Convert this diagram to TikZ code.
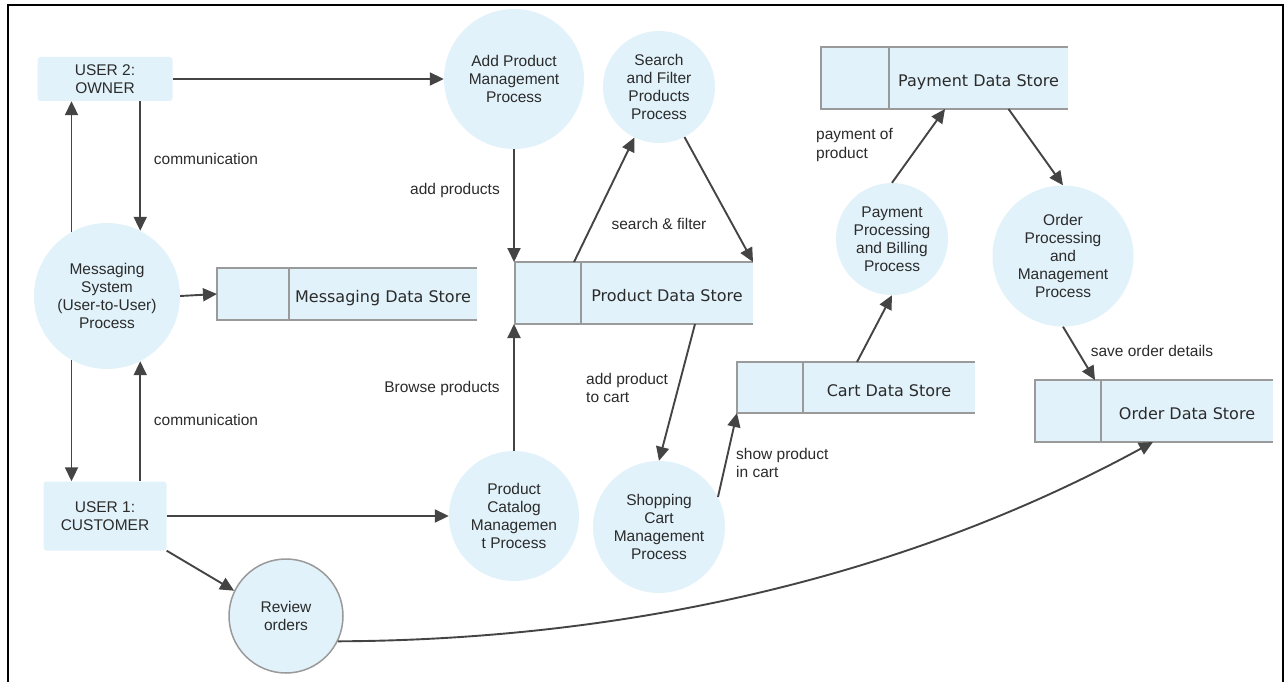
\documentclass[tikz,border=0pt]{standalone}
\usepackage{fontspec}
\setmainfont{Liberation Sans}
\newfontfamily\storefont{DejaVu Sans}
\usetikzlibrary{positioning,calc,arrows.meta}

\definecolor{dfdblue}{HTML}{E1F2FA}
\definecolor{dfdgray}{HTML}{9A9A9A}
\definecolor{dfdarrow}{HTML}{444444}
\definecolor{dfdtext}{HTML}{2B2B2B}

\tikzset{
  entity/.style={rectangle, rounded corners=3pt, fill=dfdblue, text=dfdtext, align=center, font=\fontsize{15.5}{18}\selectfont},
  process/.style={circle, fill=dfdblue, text=dfdtext, align=center, inner sep=0pt, font=\fontsize{15.5}{18}\selectfont},
  storecell/.style={rectangle, fill=dfdblue, inner sep=0pt, outer sep=0pt},
  storetext/.style={rectangle, fill=dfdblue, inner sep=0pt, outer sep=0pt, text height=17pt, text depth=0pt, text=dfdtext, font=\storefont\fontsize{16}{18}\selectfont},
  storeline/.style={draw=dfdgray, line width=2pt},
  flow/.style={draw=dfdarrow, line width=1.9pt, -{Triangle[length=14pt,width=13pt]}},
  flowlabel/.style={text=dfdtext, align=left, inner sep=0pt, font=\fontsize{15.5}{18}\selectfont}
}

\begin{document}
\begin{tikzpicture}[x=1pt,y=-1pt]
\useasboundingbox (0,0) rectangle (1285,682);
\draw[line width=2pt] (8,682) -- (8,5) -- (1283,5) -- (1283,682);

% users
\node[entity, minimum width=135pt, minimum height=44pt] (owner) at (105,79) {USER 2:\\OWNER};
\node[entity, minimum width=123pt, minimum height=69pt] (cust) at (105,516) {USER 1:\\CUSTOMER};

% processes
\node[process, minimum size=146pt] (msg) at (107,296) {Messaging\\System\\(User-to-User)\\Process};
\node[process, minimum size=140pt] (addprod) at (514,79) {Add Product\\Management\\Process};
\node[process, minimum size=112pt] (search) at (659,87) {Search\\and Filter\\Products\\Process};
\node[process, minimum size=130pt] (catalog) at (514,516) {Product\\Catalog\\Managemen\\t Process};
\node[process, minimum size=132pt] (shop) at (659,527) {Shopping\\Cart\\Management\\Process};
\node[process, minimum size=112pt] (pay) at (892,239) {Payment\\Processing\\and Billing\\Process};
\node[process, minimum size=141pt] (order) at (1063,256) {Order\\Processing\\and\\Management\\Process};
\node[process, draw=dfdgray, line width=1.5pt, minimum size=114pt] (rev) at (286,616) {Review\\orders};

% data stores
\node[storecell, minimum width=72pt, minimum height=52pt] (mds-l) at (253,294) {};
\node[storetext, minimum width=188pt, minimum height=52pt, right=0pt of mds-l] (mds) {Messaging Data Store};
\node[storecell, minimum width=66pt, minimum height=62pt] (pds-l) at (548,293) {};
\node[storetext, minimum width=172pt, minimum height=62pt, right=0pt of pds-l] (pds) {Product Data Store};
\node[storecell, minimum width=68pt, minimum height=62pt] (pms-l) at (855,78) {};
\node[storetext, minimum width=179pt, minimum height=62pt, right=0pt of pms-l] (pms) {Payment Data Store};
\node[storecell, minimum width=66pt, minimum height=51pt] (cds-l) at (770,387.5) {};
\node[storetext, minimum width=172pt, minimum height=51pt, right=0pt of cds-l] (cds) {Cart Data Store};
\node[storecell, minimum width=66pt, minimum height=62pt] (ods-l) at (1068,411) {};
\node[storetext, minimum width=172pt, minimum height=62pt, right=0pt of ods-l] (ods) {Order Data Store};

\foreach \s in {mds,pds,pms,cds,ods}{
  \draw[storeline] (\s.north east) -- (\s-l.north west) -- (\s-l.south west) -- (\s.south east);
  \draw[storeline] (\s-l.north east) -- (\s-l.south east);
}

% flows
\draw[flow] (owner.east) -- (addprod.west);
\draw[flow] (msg.119) -- (msg.119 |- owner.south);
\draw[flow] (msg.63 |- owner.south) -- (msg.63);
\draw[flow] (msg.east) -- (mds-l.west);
\draw[flow] (msg.-119) -- (msg.-119 |- cust.north);
\draw[flow] (msg.-63 |- cust.north) -- (msg.-63);
\draw[flow] (cust.east) -- (catalog.west);
\draw[flow] (cust.south east) -- (rev.154);
\draw[flow] (addprod.south) -- (addprod.south |- pds-l.north);
\draw[flow] (catalog.north) -- (catalog.north |- pds-l.south);
\draw[flow] ($(pds-l.north east)+(-7,0)$) -- (search.-116);
\draw[flow] (search.-63) -- (pds.north east);
\draw[flow] ($(pds.south)+(28,0)$) -- (shop.north);
\draw[flow] (shop.27) -- (cds-l.south west);
\draw[flow] ($(cds.north)+(-32,0)$) -- (pay.south);
\draw[flow] (pay.north) -- ($(pms.south west)+(56,0)$);
\draw[flow] ($(pms.south)+(30,0)$) -- (order.north);
\draw[flow] (order.south) -- ($(ods-l.north east)+(-6,0)$);
\draw[flow] (rev.-26) .. controls (620,640) and (900,580) .. ($(ods.south west)+(52,0)$);

% labels
\node[flowlabel] (lcomm1) at (206,159) {communication};
\node[flowlabel] (lcomm2) at (206,420) {communication};
\node[flowlabel] (laddp) at (455,190) {add products};
\node[flowlabel] (lbrowse) at (442,388) {Browse products};
\node[flowlabel] (lsearch) at (659,224) {search \& filter};
\node[flowlabel, anchor=west] (laddcart) at (586,388) {add product\\to cart};
\node[flowlabel, anchor=west] (lshow) at (736,463) {show product\\in cart};
\node[flowlabel, anchor=west] (lpaym) at (816,145) {payment of\\product};
\node[flowlabel] (lsave) at (1152,351) {save order details};
\end{tikzpicture}
\end{document}
